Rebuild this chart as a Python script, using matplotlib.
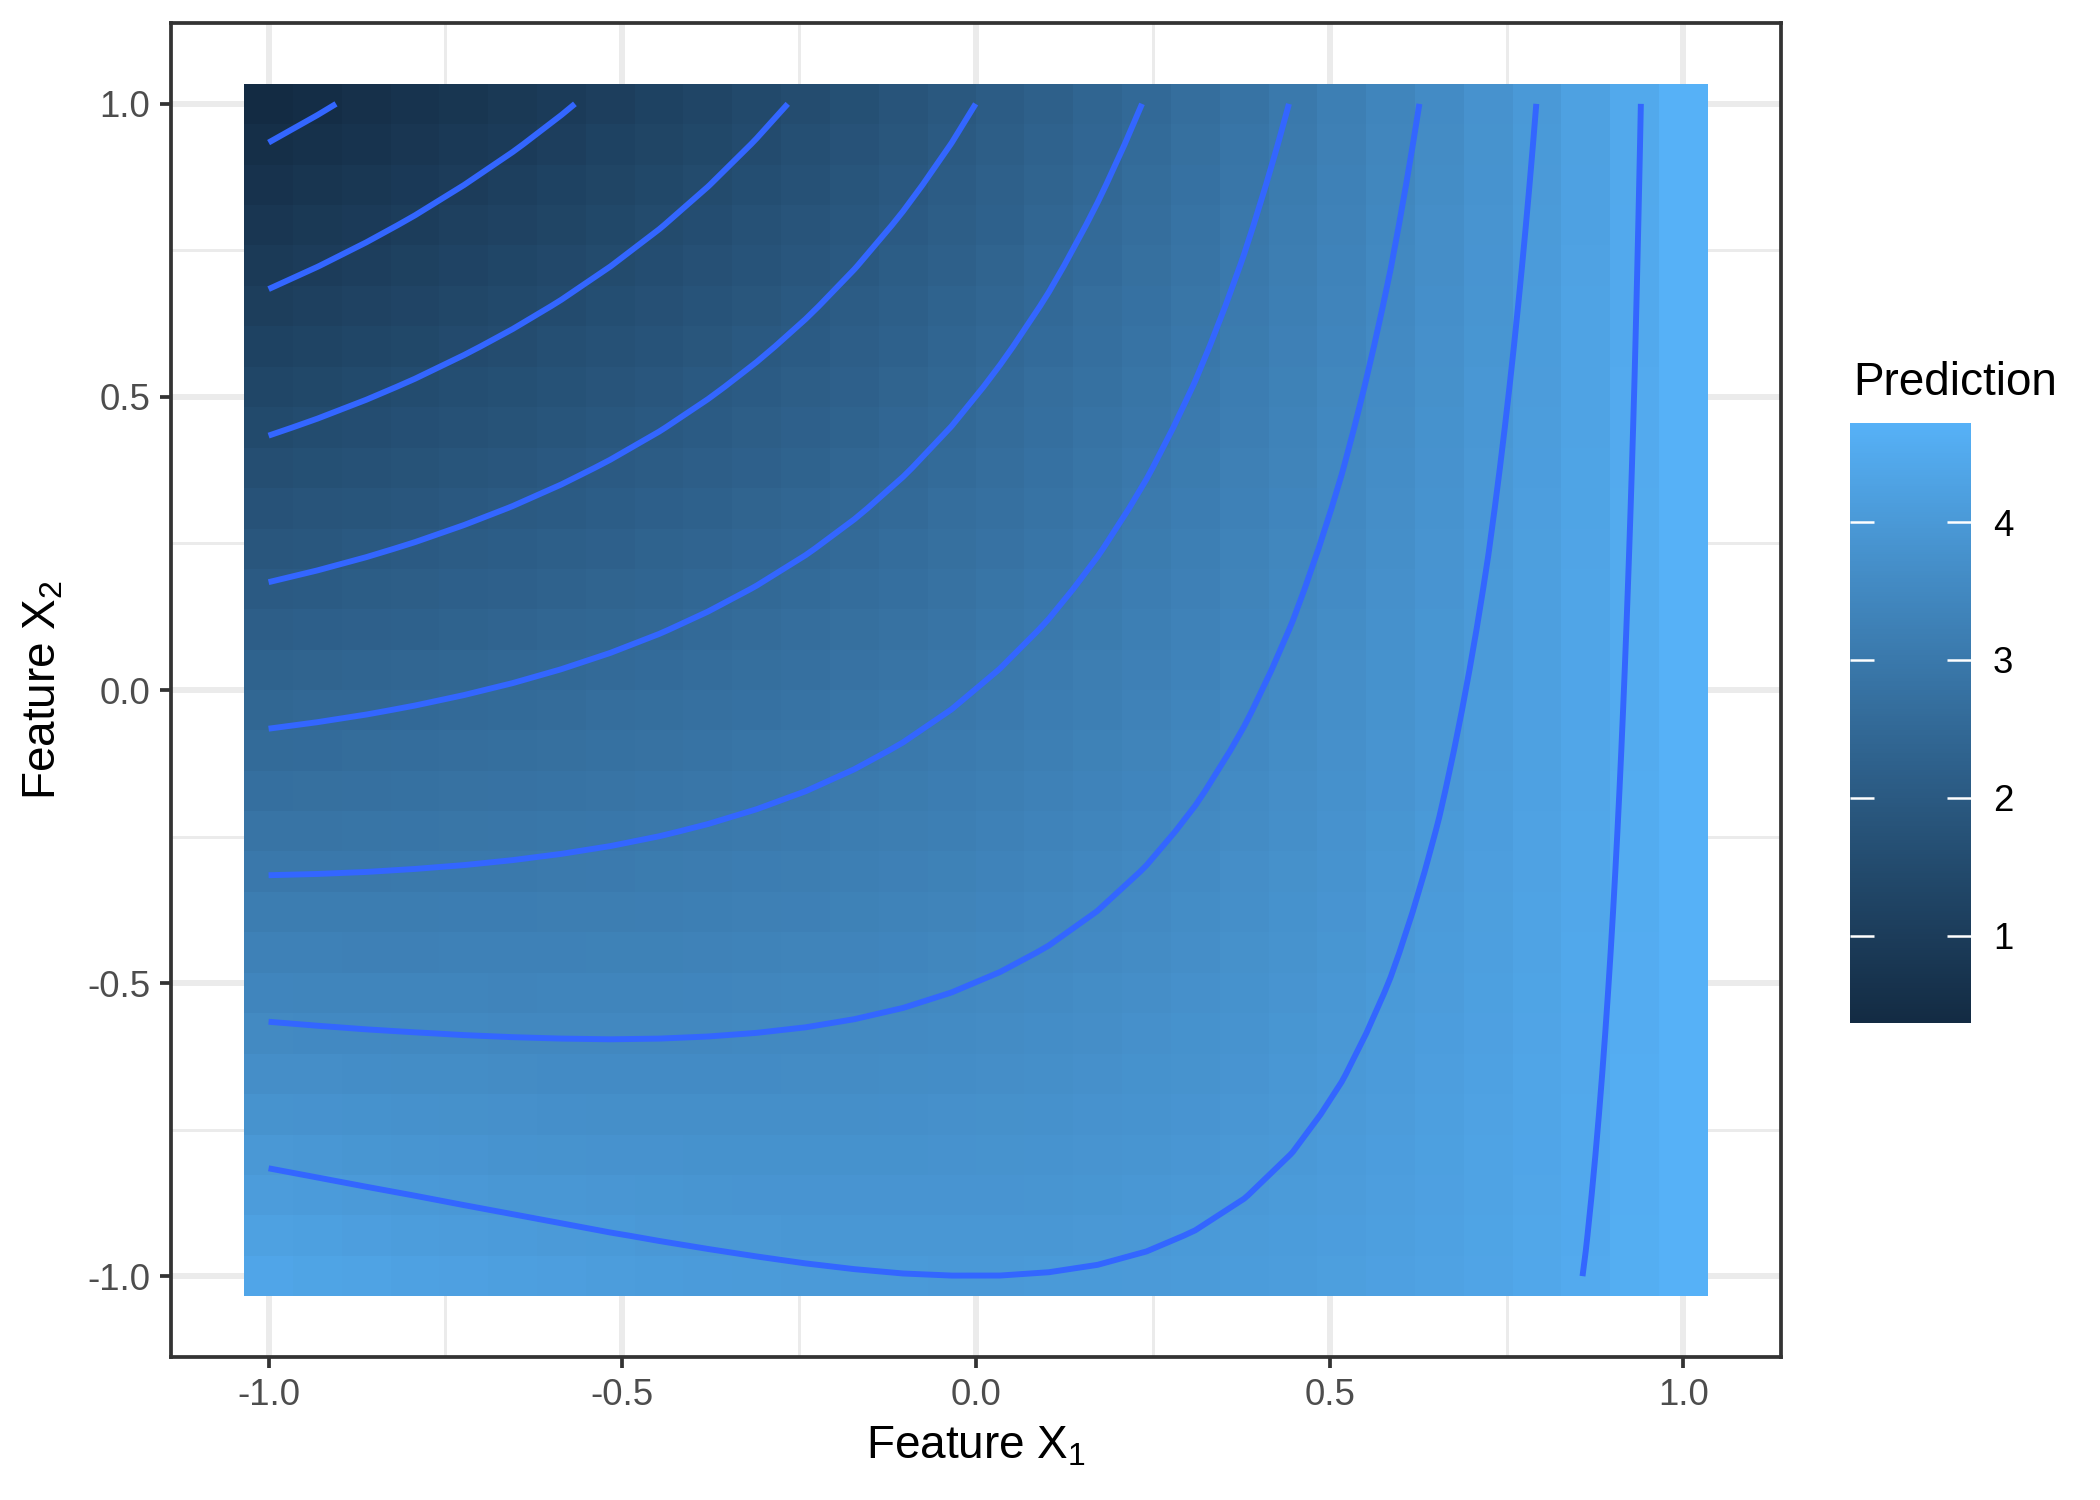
import matplotlib
matplotlib.use("Agg")
import matplotlib.pyplot as plt
import numpy as np
from matplotlib.colors import ListedColormap

plt.rcParams['font.family'] = ['Liberation Sans', 'DejaVu Sans']
plt.rcParams['mathtext.fontset'] = 'custom'
plt.rcParams['mathtext.rm'] = 'Liberation Sans'
plt.rcParams['mathtext.it'] = 'Liberation Sans'

# --- grid of the prediction surface (30 x 30 tiles) ---
x1_vals = [-1.000, -0.931, -0.862, -0.793, -0.724, -0.655, -0.586, -0.517, -0.448, -0.379,
           -0.310, -0.241, -0.172, -0.103, -0.034, 0.034, 0.103, 0.172, 0.241, 0.310,
           0.379, 0.448, 0.517, 0.586, 0.655, 0.724, 0.793, 0.862, 0.931, 1.000]
x2_vals = list(x1_vals)

# prediction along the top row (X2 = 1) and bottom row (X2 = -1), one per column
pred_top = [0.368, 0.463, 0.560, 0.659, 0.761, 0.864, 0.970, 1.079, 1.190, 1.305,
            1.423, 1.544, 1.669, 1.798, 1.932, 2.070, 2.212, 2.361, 2.514, 2.674,
            2.841, 3.014, 3.195, 3.383, 3.581, 3.787, 4.003, 4.230, 4.468, 4.718]
pred_bottom = [4.368, 4.325, 4.284, 4.246, 4.209, 4.175, 4.143, 4.113, 4.087, 4.064,
               4.044, 4.027, 4.014, 4.005, 4.001, 4.001, 4.006, 4.016, 4.032, 4.054,
               4.082, 4.117, 4.160, 4.211, 4.270, 4.339, 4.417, 4.506, 4.606, 4.718]

contour_levels = [0.5, 1.0, 1.5, 2.0, 2.5, 3.0, 3.5, 4.0, 4.5]
cbar_ticks = [1, 2, 3, 4]

x1 = np.array(x1_vals)
x2 = np.array(x2_vals)
top = np.array(pred_top)
bot = np.array(pred_bottom)
# each column runs straight from its bottom value to its top value
w = (x2[:, None] + 1) / 2
Z = bot[None, :] + (top - bot)[None, :] * w


# --- ggplot-like gradient (#132B43 -> #56B1F7), interpolated in Lab ---
M = np.array([[0.4124564, 0.3575761, 0.1804375],
              [0.2126729, 0.7151522, 0.0721750],
              [0.0193339, 0.1191920, 0.9503041]])
Minv = np.linalg.inv(M)
WHITE = np.array([0.95047, 1.0, 1.08883])
EPS = 6 / 29


def hex_rgb(h):
    return np.array([int(h[i:i + 2], 16) for i in (1, 3, 5)]) / 255


def rgb_to_lab(rgb):
    lin = np.where(rgb <= 0.04045, rgb / 12.92, ((rgb + 0.055) / 1.055) ** 2.4)
    xyz = M @ lin / WHITE
    f = np.where(xyz > EPS ** 3, np.cbrt(xyz), xyz / (3 * EPS ** 2) + 4 / 29)
    return np.array([116 * f[1] - 16, 500 * (f[0] - f[1]), 200 * (f[1] - f[2])])


def lab_to_rgb(lab):
    fy = (lab[:, 0] + 16) / 116
    fx = fy + lab[:, 1] / 500
    fz = fy - lab[:, 2] / 200
    f = np.stack([fx, fy, fz], axis=-1)
    xyz = np.where(f > EPS, f ** 3, 3 * EPS ** 2 * (f - 4 / 29)) * WHITE
    lin = xyz @ Minv.T
    lin = np.clip(lin, 0, None)
    rgb = np.where(lin <= 0.0031308, 12.92 * lin, 1.055 * lin ** (1 / 2.4) - 0.055)
    return np.clip(rgb, 0, 1)


lab_lo = rgb_to_lab(hex_rgb("#132B43"))
lab_hi = rgb_to_lab(hex_rgb("#56B1F7"))
t = np.linspace(0, 1, 256)[:, None]
cmap = ListedColormap(lab_to_rgb(lab_lo * (1 - t) + lab_hi * t))

# --- figure ---
fig = plt.figure(figsize=(7, 5), dpi=300, facecolor='white')
ax = fig.add_axes([0.08143, 0.09533, 0.76667, 0.88933])

mesh = ax.pcolormesh(x1, x2, Z, shading='nearest', cmap=cmap, zorder=2,
                     linewidth=0, antialiased=False)
ax.contour(x1, x2, Z, levels=contour_levels, colors='#3366FF', linewidths=1.42, zorder=3)

half = (x1[1] - x1[0]) / 2
lo, hi = x1[0] - half, x1[-1] + half
pad = 0.05 * (hi - lo)
ax.set_xlim(lo - pad, hi + pad)
ax.set_ylim(lo - pad, hi + pad)

major = [-1.0, -0.5, 0.0, 0.5, 1.0]
minor = [-0.75, -0.25, 0.25, 0.75]
ax.set_xticks(major)
ax.set_yticks(major)
ax.set_xticklabels(['-1.0', '-0.5', '0.0', '0.5', '1.0'])
ax.set_yticklabels(['-1.0', '-0.5', '0.0', '0.5', '1.0'])
for v in major:
    ax.axvline(v, color='#EBEBEB', lw=1.42, zorder=1)
    ax.axhline(v, color='#EBEBEB', lw=1.42, zorder=1)
for v in minor:
    ax.axvline(v, color='#EBEBEB', lw=0.71, zorder=1)
    ax.axhline(v, color='#EBEBEB', lw=0.71, zorder=1)

ax.tick_params(axis='both', direction='out', length=2.75, width=0.9, color='#333333',
               labelsize=8.8, labelcolor='#4D4D4D', pad=2.2)
for sp in ax.spines.values():
    sp.set_color('#333333')
    sp.set_linewidth(0.9)
    sp.set_zorder(5)

fig.text(0.4648, 1 - 1458 / 1500, 'Feature X$_1$', ha='center', va='baseline',
         fontsize=11, color='black')
fig.text(0.0205, 1 - 689.5 / 1500, 'Feature X$_2$', ha='center', va='center',
         rotation=90, fontsize=11, color='black')

# --- colour bar legend ---
cax = fig.add_axes([1850 / 2100, 1 - 1023 / 1500, 121 / 2100, 600 / 1500])
cbar = fig.colorbar(mesh, cax=cax, ticks=cbar_ticks)
cbar.outline.set_visible(False)
cax.tick_params(axis='y', direction='in', left=True, right=True, labelleft=False,
                labelright=True, length=5.8, width=0.6, color='white',
                labelsize=8.8, labelcolor='black', pad=5.3)
cax.set_yticklabels([str(v) for v in cbar_ticks])
fig.text(1853 / 2100, 1 - 395 / 1500, 'Prediction', ha='left', va='baseline',
         fontsize=11, color='black')

fig.savefig('out.png', dpi=300, facecolor='white')
